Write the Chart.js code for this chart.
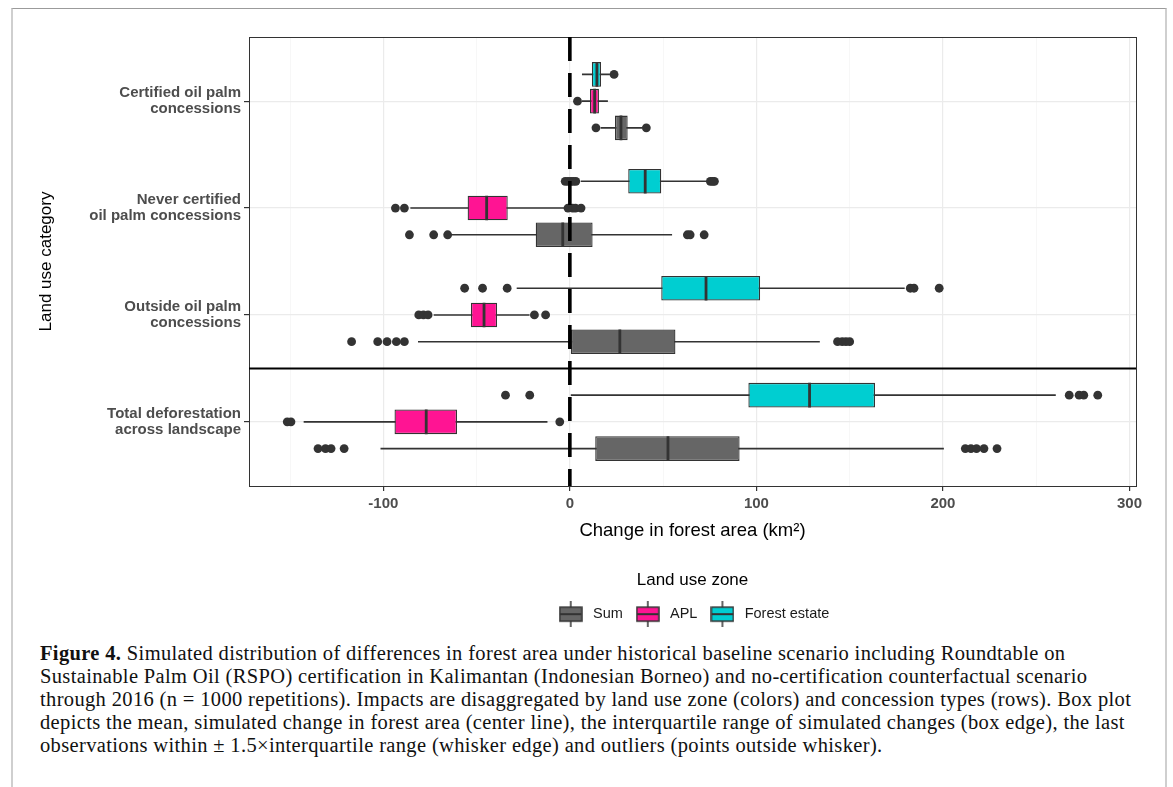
<!DOCTYPE html>
<html>
<head>
<meta charset="utf-8">
<script src="https://cdn.jsdelivr.net/npm/chart.js@4.4.0/dist/chart.umd.min.js"></script>
<style>
html,body{margin:0;padding:0;background:#fff;width:1173px;height:787px;overflow:hidden;}
#frame{position:absolute;left:11px;top:8px;width:1156px;height:800px;border-top:1px solid #9b9b9b;border-left:2px solid #cfcfcf;border-right:2px solid #cfcfcf;box-sizing:border-box;}
#c{position:absolute;left:13px;top:9px;}
#caption{position:absolute;left:40px;top:642px;font-family:'Liberation Serif','Times New Roman',serif;font-size:20.5px;letter-spacing:0.35px;line-height:23px;color:#111;white-space:nowrap;}
</style>
</head>
<body>
<div id="frame"></div>
<canvas id="c" width="1153" height="630"></canvas>
<div id="caption"><b>Figure 4.</b> Simulated distribution of differences in forest area under historical baseline scenario including Roundtable on<br>Sustainable Palm Oil (RSPO) certification in Kalimantan (Indonesian Borneo) and no-certification counterfactual scenario<br>through 2016 (n = 1000 repetitions). Impacts are disaggregated by land use zone (colors) and concession types (rows). Box plot<br>depicts the mean, simulated change in forest area (center line), the interquartile range of simulated changes (box edge), the last<br>observations within ± 1.5×interquartile range (whisker edge) and outliers (points outside whisker).</div>
<script>
// ---------- data ----------
const categories = [
  ['Certified oil palm', 'concessions'],
  ['Never certified', 'oil palm concessions'],
  ['Outside oil palm', 'concessions'],
  ['Total deforestation', 'across landscape']
];
const zoneNames = ['Forest estate', 'APL', 'Sum'];      // top to bottom inside each row
const legendOrder = ['Sum', 'APL', 'Forest estate'];
const xTickValues = [-150, -100, -50, 0, 50, 100, 150, 200, 250, 300];
const xMin = -172, xMax = 303.5;
const separatorAt = 2.5;

// Forest estate
const forestLow    = [6.5, 5.9, -28.5, 0.5];
const forestQ1     = [11.8, 31.3, 49, 95.7];
const forestMedian = [14.5, 40.4, 73, 128.5];
const forestQ3     = [16.7, 49, 102, 163.6];
const forestHigh   = [21.5, 73, 179.5, 260.5];
const forestOutliers = [
  [23.7],
  [-2.5, -1, 0.5, 1.8, 3.2, 75.3, 76.5, 77.5],
  [-56.4, -46.8, -33.6, 182.5, 184.5, 198],
  [-34.5, -21.5, 267.7, 273, 275.5, 283]
];

// APL
const aplLow    = [6.5, -85.5, -73, -142.7];
const aplQ1     = [10.8, -54.8, -53, -94];
const aplMedian = [13.3, -44.6, -46, -77];
const aplQ3     = [15.6, -33.3, -39, -60.5];
const aplHigh   = [20.4, -2.7, -21.6, -12];
const aplOutliers = [
  [4.1],
  [-93.5, -88.7, -1, 1.5, 3, 6],
  [-81, -78.5, -76, -19, -13],
  [-151.5, -149.5, -5.4]
];

// Sum
const sumLow    = [16.5, -64, -81.4, -101.5];
const sumQ1     = [24.2, -18.3, 0.5, 13.6];
const sumMedian = [27.4, -3.8, 26.8, 52.6];
const sumQ3     = [31, 12.2, 56.6, 91];
const sumHigh   = [38.7, 54.8, 134, 200.5];
const sumOutliers = [
  [14, 41],
  [-86, -73, -65.5, 63, 64.5, 72],
  [-117, -103, -98, -93, -88.7, 143.5, 146, 148, 150],
  [-135, -131, -128, -121, 212, 215, 218, 222, 229]
];

// ---------- styling ----------
const colors = {'Forest estate': '#00CED1', 'APL': '#FF1493', 'Sum': '#666666'};
const edgeColor = '#333333';
const dodge = [-0.25, 0, 0.25];
const boxFrac = 0.92;
const halfBox = 0.25 * boxFrac / 2;

const zones = [
  {name: 'Forest estate', low: forestLow, q1: forestQ1, med: forestMedian, q3: forestQ3, high: forestHigh, out: forestOutliers},
  {name: 'APL', low: aplLow, q1: aplQ1, med: aplMedian, q3: aplQ3, high: aplHigh, out: aplOutliers},
  {name: 'Sum', low: sumLow, q1: sumQ1, med: sumMedian, q3: sumQ3, high: sumHigh, out: sumOutliers}
];

const GAP = {x: null, y: null};
const datasets = [];
zones.forEach((z, k) => {
  const pos = i => i + dodge[k];
  datasets.push({
    type: 'bar', label: z.name, indexAxis: 'y', grouped: false,
    data: categories.map((c, i) => ({y: pos(i), x: [z.q1[i], z.q3[i]]})),
    backgroundColor: colors[z.name], borderColor: edgeColor, borderWidth: 1.3, borderSkipped: false,
    categoryPercentage: 1, barPercentage: boxFrac, order: 4
  });
  datasets.push({
    type: 'line', label: z.name + ' whiskers',
    data: categories.flatMap((c, i) => [{x: z.low[i], y: pos(i)}, {x: z.high[i], y: pos(i)}, GAP]),
    borderColor: edgeColor, borderWidth: 1.6, pointRadius: 0, fill: false, spanGaps: false, order: 5
  });
  datasets.push({
    type: 'line', label: z.name + ' medians',
    data: categories.flatMap((c, i) => [{x: z.med[i], y: pos(i) - halfBox}, {x: z.med[i], y: pos(i) + halfBox}, GAP]),
    borderColor: edgeColor, borderWidth: 2.8, pointRadius: 0, fill: false, spanGaps: false, order: 3
  });
  datasets.push({
    type: 'scatter', label: z.name + ' outliers',
    data: categories.flatMap((c, i) => z.out[i].map(v => ({x: v, y: pos(i)}))),
    backgroundColor: edgeColor, borderWidth: 0, pointRadius: 4.4, order: 2
  });
});
datasets.push({
  type: 'line', label: 'separator',
  data: [{x: xMin, y: separatorAt}, {x: xMax, y: separatorAt}],
  borderColor: '#000', borderWidth: 2, pointRadius: 0, fill: false, order: 1
});
datasets.push({
  type: 'line', label: 'zero',
  data: [{x: 0, y: -0.6}, {x: 0, y: 3.6}],
  borderColor: '#000', borderWidth: 3.6, borderDash: [24, 12], pointRadius: 0, fill: false, order: 0, clip: 0
});

function makeIcon(color) {
  const c = document.createElement('canvas');
  c.width = 24; c.height = 26;
  const g = c.getContext('2d');
  g.strokeStyle = edgeColor; g.lineWidth = 1.5;
  g.beginPath(); g.moveTo(12, 0); g.lineTo(12, 6); g.moveTo(12, 20); g.lineTo(12, 26); g.stroke();
  g.fillStyle = color; g.fillRect(1, 6, 22, 14);
  g.strokeRect(1, 6, 22, 14);
  g.lineWidth = 2;
  g.beginPath(); g.moveTo(1, 13); g.lineTo(23, 13); g.stroke();
  return c;
}
const icons = {};
legendOrder.forEach(n => icons[n] = makeIcon(colors[n]));

const centerLegend = {
  id: 'centerLegend',
  afterLayout(chart) {
    const l = chart.legend, ca = chart.chartArea;
    if (!l) return;
    l.left = ca.left; l.right = ca.right; l.width = ca.right - ca.left;
  }
};

Chart.defaults.font.family = "'Liberation Sans', Arial, sans-serif";
const yEdges = [-0.6, 3.6];

new Chart(document.getElementById('c'), {
  type: 'scatter',
  data: {datasets},
  options: {
    responsive: false, animation: false,
    layout: {padding: {left: 17, right: 30, top: 28, bottom: 7.6}},
    scales: {
      x: {
        type: 'linear', min: xMin, max: xMax, offset: false,
        afterBuildTicks: s => { s.ticks = [xMin, ...xTickValues, xMax].map(v => ({value: v})); },
        afterFit: s => { s.height = 58; },
        ticks: {
          autoSkip: false, maxRotation: 0, padding: 4, color: '#4d4d4d',
          font: {size: 15, weight: 'bold'},
          callback: v => (v % 100 === 0 ? String(v) : '')
        },
        grid: {
          offset: false, tickLength: 5,
          color: c => (c.tick.value === xMin || c.tick.value === xMax) ? edgeColor : (c.tick.value % 100 === 0 ? '#ebebeb' : '#f3f3f3'),
          lineWidth: c => (c.tick.value === xMin || c.tick.value === xMax) ? 1 : (c.tick.value % 100 === 0 ? 1.2 : 0.7),
          tickColor: c => (c.tick.value % 100 === 0) ? edgeColor : 'rgba(0,0,0,0)'
        },
        border: {display: true, color: edgeColor, width: 1},
        title: {display: true, text: 'Change in forest area (km²)', color: '#000', font: {size: 18.5}, padding: {top: 0, bottom: 2}}
      },
      y: {
        type: 'linear', min: yEdges[0], max: yEdges[1], reverse: true, offset: false,
        afterBuildTicks: s => { s.ticks = [yEdges[0], 0, 1, 2, 3, yEdges[1]].map(v => ({value: v})); },
        afterFit: s => { s.width = 219; },
        ticks: {
          autoSkip: false, padding: 3, color: '#4d4d4d',
          font: {size: 15, weight: 'bold', lineHeight: 1.07},
          callback: v => (Number.isInteger(v) && categories[v]) ? categories[v] : ''
        },
        grid: {
          offset: false, tickLength: 5,
          color: c => (yEdges.includes(c.tick.value)) ? edgeColor : '#ebebeb',
          lineWidth: c => (yEdges.includes(c.tick.value)) ? 1 : 1.2,
          tickColor: c => (yEdges.includes(c.tick.value)) ? 'rgba(0,0,0,0)' : edgeColor
        },
        border: {display: true, color: edgeColor, width: 1},
        title: {display: true, text: 'Land use category', color: '#000', font: {size: 17}, padding: {top: 6, bottom: 0}}
      }
    },
    plugins: {
      tooltip: {enabled: false},
      legend: {
        position: 'bottom', align: 'center',
        title: {display: true, text: 'Land use zone', color: '#000', font: {size: 17}, padding: {top: 27.5, bottom: 5}},
        labels: {
          usePointStyle: true, pointStyleWidth: 30, color: '#1a1a1a', font: {size: 14.5}, padding: 10,
          generateLabels: () => legendOrder.map(n => ({
            text: n, pointStyle: icons[n], fillStyle: colors[n], strokeStyle: edgeColor,
            lineWidth: 0, hidden: false, fontColor: '#1a1a1a'
          }))
        }
      }
    }
  },
  plugins: [centerLegend]
});
</script>
</body>
</html>
